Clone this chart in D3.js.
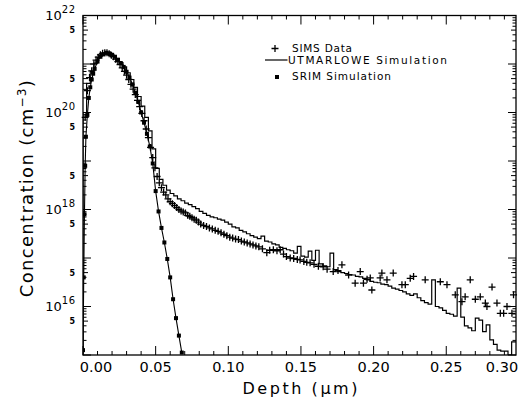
<!DOCTYPE html>
<html><head><meta charset="utf-8">
<script src="https://cdn.jsdelivr.net/npm/d3@7"></script>
<style>html,body{margin:0;padding:0;background:#fff;} svg{display:block;font-family:"DejaVu Sans",sans-serif;}</style>
</head><body><svg id="c" width="528" height="403"></svg>
<script>
// ---------- data ----------
const xTickValues = [0, 0.05, 0.10, 0.15, 0.20, 0.25, 0.30];
const xTickLabels = ["0.00", "0.05", "0.10", "0.15", "0.20", "0.25", "0.30"];
const yLabelDecades = [16, 18, 20, 22];
const yFiveLabel = "5";
const xTitle = "Depth  (\u03bcm)";
const yTitleMain = "Concentration  (cm";
const yTitleSup = "\u22123";
const legendLabels = ["SIMS Data", "UTMARLOWE Simulation", "SRIM Simulation"];

// SRIM simulation (depth in um, log10 concentration)
const srimDepth = [0.000,0.0005,0.001,0.0015,0.002,0.003,0.004,0.005,0.006,0.007,0.008,
  0.010,0.012,0.014,0.016,0.018,0.020,0.022,0.024,0.026,0.028,0.030,0.032,0.034,0.036,0.038,
  0.040,0.042,0.044,0.046,0.048,0.050,0.052,0.054,0.056,0.058,0.060,0.062,0.064,0.066,0.068];
const srimLogConc = [15.1,16.6,17.9,18.9,19.5,19.95,20.3,20.52,20.68,20.8,20.9,
  21.05,21.15,21.2,21.23,21.22,21.19,21.15,21.09,21.02,20.94,20.84,20.72,20.58,20.41,20.22,
  20.00,19.79,19.56,19.3,18.95,18.38,17.96,17.62,17.32,16.98,16.6,16.15,15.76,15.4,15.05];

// UTMARLOWE simulation histogram (bins of equal width starting at 0)
const utmBinWidth = 0.0025;
const utmLogConc = [
  20.00,20.60,20.85,21.02,21.13,21.20,21.23,21.22,21.17,21.11,
  21.03,20.94,20.82,20.68,20.52,20.33,20.13,19.90,19.62,19.25,
  18.85,18.62,18.50,18.40,18.33,18.28,18.22,18.18,18.13,18.10,
  18.06,18.02,17.96,17.92,17.88,17.85,17.83,17.80,17.78,17.74,
  17.70,17.64,17.62,17.57,17.54,17.50,17.46,17.43,17.40,17.45,
  17.35,17.33,17.29,17.27,17.22,17.20,17.17,17.15,17.10,17.24,
  17.04,17.02,17.14,16.95,17.16,16.88,16.84,16.82,17.10,16.76,
  16.72,16.70,16.68,16.66,16.65,16.62,16.61,16.58,16.55,16.52,
  16.50,16.49,16.46,16.45,16.42,16.38,16.36,16.33,16.30,16.26,
  16.23,16.26,16.18,16.12,16.08,16.05,16.55,16.00,15.97,15.92,
  15.86,15.84,15.80,16.38,15.78,15.60,15.56,15.50,15.76,15.72,
  15.48,15.62,15.31,15.22,15.10,15.08,15.08,15.00,15.27,15.27];

// SIMS data
const simsDepth = [0.0015,0.0030,0.0045,0.0060,0.0075,0.0090,0.0105,0.0120,0.0135,0.0150,
  0.0165,0.0180,0.0195,0.0210,0.0225,0.0240,0.0255,0.0270,0.0285,0.0300,
  0.0315,0.0330,0.0345,0.0360,0.0375,0.0390,0.0405,0.0420,0.0435,0.0450,
  0.0465,0.0480,0.0495,0.0510,0.0525,0.0540,0.0555,0.0570,0.0585,0.0600,
  0.0615,0.0630,0.0645,0.0660,0.0675,0.0690,0.0705,0.0720,0.0735,0.0750,
  0.0765,0.0780,0.0795,0.0810,0.0830,0.0850,0.0870,0.0890,0.0910,0.0930,
  0.0950,0.0970,0.0990,0.1010,0.1030,0.1050,0.1070,0.1090,0.1110,0.1130,
  0.1150,0.1170,0.1190,0.1210,0.1235,0.1265,0.1285,0.1310,0.1335,0.1357,
  0.1380,0.1400,0.1426,0.1450,0.1475,0.1494,0.1520,0.1540,0.1563,0.1590,
  0.1620,0.1653,0.1680,0.1722,0.1755,0.1782,0.1828,0.1873,0.1908,0.1930,
  0.1955,0.1977,0.1988,0.2045,0.2057,0.2092,0.2135,0.2195,0.2218,0.2252,
  0.2275,0.2355,0.2459,0.2505,0.2562,0.2608,0.2630,0.2665,0.2700,0.2734,
  0.2769,0.2780,0.2815,0.2849,0.2872,0.2895,0.2918,0.2952,0.2963];
const simsLogConc = [19.9,20.45,20.72,20.86,21.0,21.08,21.14,21.19,21.22,21.23,
  21.23,21.21,21.18,21.15,21.1,21.05,20.99,20.92,20.85,20.77,
  20.68,20.58,20.48,20.37,20.25,20.12,19.98,19.83,19.66,19.48,
  19.28,19.07,18.86,18.68,18.55,18.45,18.36,18.3,18.22,18.16,
  18.12,18.08,18.04,18.0,17.97,17.95,17.93,17.88,17.86,17.83,
  17.8,17.78,17.74,17.7,17.67,17.65,17.62,17.6,17.57,17.55,
  17.52,17.49,17.46,17.43,17.41,17.39,17.38,17.35,17.33,17.31,
  17.29,17.27,17.25,17.23,17.19,17.11,17.16,17.17,17.15,17.17,
  17.08,17.03,17.0,16.99,16.97,16.96,16.93,16.91,16.9,16.87,
  16.83,16.82,16.77,16.72,16.74,16.86,16.65,16.48,16.72,16.48,
  16.56,16.59,16.34,16.59,16.69,16.55,16.69,16.45,16.45,16.58,
  16.62,16.55,16.51,16.45,16.24,16.10,16.20,16.55,16.15,16.20,
  16.07,16.00,16.40,16.07,15.86,15.86,16.00,15.86,16.24];

// ---------- chart ----------
const L = 83, R = 516, T = 15.5, B = 355;
const svg = d3.select("#c");
const x = d3.scaleLinear().domain([0, 0.298]).range([L, R]);
const y = d3.scaleLog().domain([1e15, 1e22]).range([B, T]);
const p10 = v => Math.pow(10, v);

svg.append("defs").append("clipPath").attr("id", "clip")
  .append("rect").attr("x", L).attr("y", T).attr("width", R - L).attr("height", B - T);

// ticks
const minorX = d3.range(0, 30).map(i => i / 100).filter(v => v <= 0.298 && Math.round(v * 100) % 5 !== 0);
const majorX = xTickValues.filter(v => v <= 0.298);
const yMinor = [], yMajor = [];
for (let d = 15; d <= 22; d++) {
  yMajor.push(p10(d));
  if (d < 22) for (let m = 2; m <= 9; m++) yMinor.push(m * p10(d));
}
const ax = svg.append("g").attr("stroke", "#000").attr("stroke-width", 1);
function vt(xv, len) {
  ax.append("line").attr("x1", x(xv)).attr("x2", x(xv)).attr("y1", B).attr("y2", B - len);
  ax.append("line").attr("x1", x(xv)).attr("x2", x(xv)).attr("y1", T).attr("y2", T + len);
}
function ht(yv, len) {
  ax.append("line").attr("x1", L).attr("x2", L + len).attr("y1", y(yv)).attr("y2", y(yv));
  ax.append("line").attr("x1", R).attr("x2", R - len).attr("y1", y(yv)).attr("y2", y(yv));
}
minorX.forEach(v => vt(v, 4));
majorX.forEach(v => vt(v, 9));
yMinor.forEach(v => ht(v, String(v).startsWith("5") ? 5 : 3.5));
yMajor.forEach(v => ht(v, 8));

// x tick labels
const xl = svg.append("g").attr("font-size", "14.5px").attr("text-anchor", "middle").attr("fill", "#000");
xTickValues.forEach((v, i) => {
  const px = Math.max(L + 13, Math.min(R - 14, x(v)));
  xl.append("text").attr("x", px).attr("y", 372).text(xTickLabels[i]);
});

// y tick labels
const yl = svg.append("g").attr("fill", "#000");
yLabelDecades.forEach(d => {
  const t = yl.append("text").attr("x", 76).attr("y", y(p10(d)) + 4.5).attr("text-anchor", "end").attr("font-size", "13px");
  t.append("tspan").text("10");
  t.append("tspan").attr("dy", -7).attr("font-size", "10px").attr("letter-spacing", "0.8px").text(String(d));
});
for (let d = 15; d < 22; d++) {
  yl.append("text").attr("x", 75).attr("y", y(5 * p10(d)) + 3).attr("text-anchor", "end")
    .attr("font-size", "8px").attr("font-weight", "bold").text(yFiveLabel);
}

// axis titles
svg.append("text").attr("x", 300).attr("y", 394).attr("text-anchor", "middle")
  .attr("font-size", "16px").attr("textLength", 115).attr("lengthAdjust", "spacing").text(xTitle);
const yt = svg.append("text").attr("transform", "translate(33,188) rotate(-90)")
  .attr("text-anchor", "middle").attr("font-size", "18px").attr("letter-spacing", "1.3px");
yt.append("tspan").text(yTitleMain);
yt.append("tspan").attr("dy", -7).attr("font-size", "12px").text(yTitleSup);
yt.append("tspan").attr("dy", 7).text(")");

// data layers
const plot = svg.append("g").attr("clip-path", "url(#clip)");
const srim = srimDepth.map((d, i) => [d, p10(srimLogConc[i])]);
plot.append("path").datum(srim).attr("fill", "none").attr("stroke", "#000").attr("stroke-width", 1.1)
  .attr("d", d3.line().x(d => x(d[0])).y(d => y(d[1])));
plot.selectAll("rect.srim").data(srim).join("rect").attr("class", "srim")
  .attr("x", d => x(d[0]) - 2).attr("y", d => y(d[1]) - 2).attr("width", 4).attr("height", 4).attr("fill", "#000");

const utm = [[0, 1e15]];
utmLogConc.forEach((v, i) => utm.push([i * utmBinWidth, p10(v)]));
utm.push([utmLogConc.length * utmBinWidth, p10(utmLogConc[utmLogConc.length - 1])]);
plot.append("path").datum(utm).attr("fill", "none").attr("stroke", "#000").attr("stroke-width", 1.2)
  .attr("d", d3.line().curve(d3.curveStepAfter).x(d => x(d[0])).y(d => y(Math.max(d[1], 1e14))));

const sims = simsDepth.map((d, i) => [d, p10(simsLogConc[i])]);
svg.append("g").selectAll("path").data(sims).join("path")
  .attr("transform", d => `translate(${x(d[0])},${y(d[1])})`)
  .attr("d", "M-3.5,0H3.5M0,-3.5V3.5").attr("stroke", "#000").attr("stroke-width", 1.3).attr("fill", "none");

// frame
svg.append("rect").attr("x", L).attr("y", T).attr("width", R - L).attr("height", B - T)
  .attr("fill", "none").attr("stroke", "#000").attr("stroke-width", 1.3);

// legend
const lg = svg.append("g");
lg.append("path").attr("transform", "translate(275,48.5)").attr("d", "M-3.5,0H3.5M0,-3.5V3.5")
  .attr("stroke", "#000").attr("stroke-width", 1.3);
lg.append("line").attr("x1", 265).attr("x2", 287.5).attr("y1", 60).attr("y2", 60).attr("stroke", "#000").attr("stroke-width", 1.2);
lg.append("rect").attr("x", 275).attr("y", 75).attr("width", 4).attr("height", 4).attr("fill", "#000");
const lgX = [292, 288, 292], lgY = [51.5, 64, 79.5], lgW = [60, 159, 99];
legendLabels.forEach((t, i) => {
  lg.append("text").attr("x", lgX[i]).attr("y", lgY[i]).attr("font-size", "10.5px")
    .attr("textLength", lgW[i]).attr("lengthAdjust", "spacing").text(t);
});
</script></body></html>
